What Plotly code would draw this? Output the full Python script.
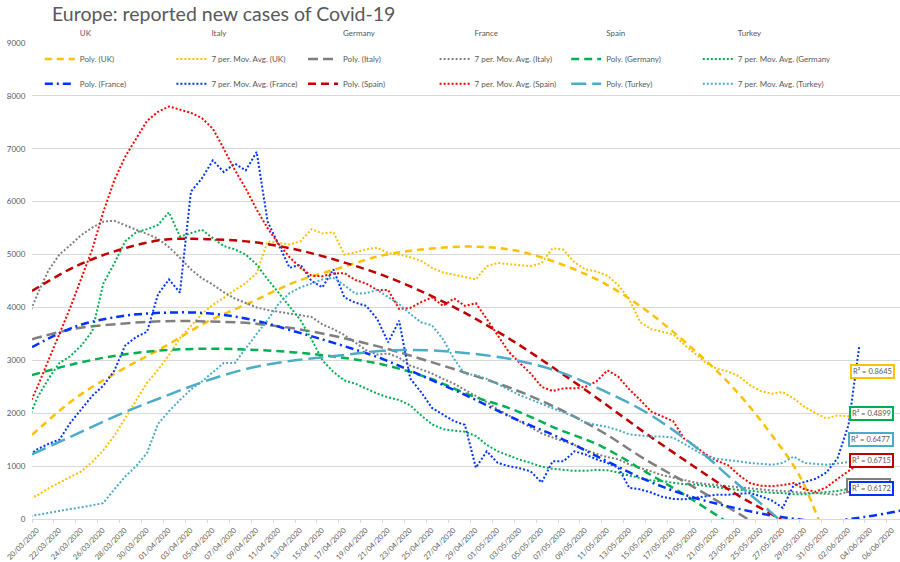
import pandas as pd
import plotly.graph_objects as go

# ---------------- data ----------------
countries = ["UK", "Italy", "Germany", "France", "Spain", "Turkey"]

# 7-day moving averages, one value per day from 19/03/2020 to 03/06/2020
ma_dates = pd.date_range("2020-03-19 12:00", periods=77, freq="D")

uk_ma = [360, 450, 580, 690, 790, 900, 1080, 1300, 1570, 1900,
         2250, 2580, 2820, 3100, 3420, 3650, 3880, 4050, 4180, 4330,
         4460, 4650, 5250, 5220, 5190, 5250, 5480, 5400, 5420, 5000,
         5040, 5100, 5130, 5030, 5000, 4950, 4880, 4750, 4660, 4620,
         4570, 4530, 4780, 4840, 4820, 4800, 4780, 4840, 5120, 5090,
         4850, 4720, 4680, 4600, 4420, 4150, 3720, 3590, 3540, 3490,
         3300, 3130, 2950, 2840, 2790, 2700, 2530, 2420, 2370, 2400,
         2280, 2120, 2000, 1900, 1960, 1940, 1930]
italy_ma = [3750, 4250, 4700, 5000, 5180, 5370, 5510, 5620, 5640, 5550,
            5470, 5390, 5300, 5140, 4940, 4720, 4550, 4430, 4290, 4170,
            4080, 4000, 3950, 3920, 3890, 3860, 3820, 3680, 3590, 3480,
            3340, 3190, 3110, 3130, 3050, 2900, 2830, 2750, 2650, 2560,
            2440, 2320, 2210, 2070, 1960, 1850, 1730, 1620, 1540, 1470,
            1400, 1310, 1230, 1170, 1130, 1030, 970, 900, 830, 780,
            740, 690, 660, 640, 610, 590, 570, 555, 540, 530,
            510, 495, 490, 470, 460, 520, 560]
germany_ma = [1800, 2300, 2650, 2950, 3080, 3280, 3550, 4450, 4830, 5250,
              5420, 5480, 5560, 5800, 5340, 5410, 5470, 5310, 5160, 5100,
              5000, 4810, 4530, 4280, 4020, 3760, 3400, 3000, 2780, 2620,
              2560, 2460, 2370, 2300, 2250, 2150, 1960, 1790, 1700, 1670,
              1650, 1570, 1400, 1280, 1200, 1120, 1060, 990, 950, 930,
              910, 910, 930, 920, 880, 820, 775, 730, 715, 690,
              660, 650, 630, 600, 570, 550, 530, 505, 495, 490,
              470, 470, 490, 510, 530, 570, 600]
france_ma = [1180, 1320, 1420, 1500, 1820, 2080, 2330, 2520, 2800, 3280,
             3440, 3540, 4250, 4530, 4280, 6190, 6440, 6780, 6560, 6720,
             6590, 6940, 5620, 5190, 4750, 4810, 4500, 4380, 4720, 4190,
             4090, 4030, 3780, 3340, 3750, 2660, 2400, 2100, 1970, 1850,
             1780, 970, 1280, 1060, 1000, 960, 900, 690, 1090, 1090,
             1280, 1220, 1130, 1060, 970, 590, 560, 500, 420, 380,
             370, 400, 440, 460, 460, 480, 490, 430, 350, 212,
             640, 700, 760, 880, 1150, 1775, 3290]
spain_ma = [2050, 2500, 3000, 3500, 4000, 4550, 5100, 5800, 6400, 6850,
            7200, 7530, 7700, 7800, 7740, 7680, 7580, 7380, 7000, 6600,
            6250, 5850, 5500, 5200, 4950, 4750, 4600, 4590, 4640, 4650,
            4520, 4450, 4330, 4330, 3970, 3990, 4100, 4190, 4030, 4170,
            4030, 4080, 3780, 3470, 3160, 2950, 2750, 2500, 2420, 2470,
            2470, 2500, 2600, 2810, 2690, 2450, 2250, 2030, 1940, 1850,
            1520, 1380, 1220, 1100, 1020, 830, 680, 630, 620, 640,
            680, 560, 515, 600, 760, 900, 1050]
turkey_ma = [40, 80, 120, 160, 190, 220, 260, 300, 560, 800,
             1000, 1250, 1800, 2040, 2250, 2450, 2600, 2780, 2950, 2950,
             3230, 3500, 3760, 4070, 4270, 4380, 4450, 4530, 4560, 4420,
             4260, 4270, 4330, 4200, 4060, 3880, 3720, 3660, 3400, 3030,
             2740, 2720, 2650, 2550, 2440, 2340, 2260, 2180, 2100, 2010,
             1930, 1820, 1780, 1740, 1680, 1600, 1580, 1560, 1560, 1540,
             1420, 1300, 1180, 1140, 1120, 1090, 1060, 1040, 1025, 1060,
             1180, 1060, 1040, 1025, 1050, 1080, 1100]

# polynomial trend lines, read at day offsets from 20/03/2020
uk_poly_days = [0, 4, 8, 12, 16, 20, 24, 28, 32, 36, 40, 44, 48, 52, 56, 60, 64, 68, 70, 72, 74]
uk_poly = [1590, 2290, 2800, 3250, 3730, 4100, 4480, 4740, 4985, 5105, 5150, 5080, 4840, 4480, 3950, 3270, 2480, 1450, 830, -130, -1300]
italy_poly_days = [0, 4, 8, 12, 16, 20, 24, 28, 32, 36, 40, 44, 48, 52, 56, 60, 64, 68]
italy_poly = [3400, 3600, 3690, 3740, 3735, 3700, 3600, 3440, 3240, 2995, 2735, 2450, 2090, 1650, 1120, 650, 160, -330]
germany_poly_days = [0, 4, 8, 12, 16, 20, 24, 28, 32, 36, 40, 44, 48, 52, 56, 60, 64, 68]
germany_poly = [2720, 2940, 3100, 3190, 3220, 3200, 3150, 3060, 2920, 2680, 2340, 2060, 1700, 1370, 890, 400, -140, -700]
france_poly_days = [0, 4, 8, 12, 16, 20, 24, 28, 32, 36, 40, 44, 48, 52, 56, 60, 64, 68, 72, 76, 80]
france_poly = [3250, 3640, 3830, 3900, 3890, 3770, 3545, 3300, 3025, 2670, 2300, 1900, 1550, 1140, 740, 430, 215, 50, -40, 40, 190]
spain_poly_days = [0, 4, 8, 12, 16, 20, 24, 28, 32, 36, 40, 44, 48, 52, 56, 60, 64, 68, 72]
spain_poly = [4310, 4780, 5090, 5280, 5290, 5240, 5100, 4880, 4610, 4260, 3840, 3350, 2800, 2220, 1620, 1050, 500, 30, -450]
turkey_poly_days = [0, 4, 8, 12, 16, 20, 24, 28, 32, 36, 40, 44, 48, 52, 56, 60, 64, 68, 72]
turkey_poly = [1220, 1600, 1980, 2310, 2620, 2860, 3000, 3090, 3180, 3190, 3130, 3010, 2790, 2440, 2020, 1450, 730, 20, -800]

r2_text = {"UK": "R² = 0.8645", "Germany": "R² = 0.4899", "Turkey": "R² = 0.6477",
           "Spain": "R² = 0.6715", "Italy": "R² = 0.6759", "France": "R² = 0.6172"}

# ---------------- styles ----------------
start = pd.Timestamp("2020-03-20")


def to_dates(days):
    return [start + pd.Timedelta(days=d) for d in days]


ma = {"UK": uk_ma, "Italy": italy_ma, "Germany": germany_ma,
      "France": france_ma, "Spain": spain_ma, "Turkey": turkey_ma}
poly = {"UK": (uk_poly_days, uk_poly), "Italy": (italy_poly_days, italy_poly),
        "Germany": (germany_poly_days, germany_poly), "France": (france_poly_days, france_poly),
        "Spain": (spain_poly_days, spain_poly), "Turkey": (turkey_poly_days, turkey_poly)}

poly_color = {"UK": "#FFC000", "Italy": "#7F7F7F", "Germany": "#00B050",
              "France": "#0033FF", "Spain": "#C00000", "Turkey": "#4BACC6"}
ma_color = {"UK": "#FFC000", "Italy": "#7F7F7F", "Germany": "#00B050",
            "France": "#0033FF", "Spain": "#FF0000", "Turkey": "#4BACC6"}
poly_dash = {"UK": "7px,5px", "Italy": "10px,5px", "Germany": "8px,5px",
             "France": "8px,4px,2px,4px", "Spain": "8px,5px", "Turkey": "15px,6px"}

fig = go.Figure()

# raw series (lines hidden) -> header row of legend
for c in countries:
    fig.add_trace(go.Scatter(x=ma_dates, y=ma[c], mode="lines", name=c,
                             line=dict(width=0, color="rgba(0,0,0,0)"),
                             legend="legend", hoverinfo="skip"))

for i, c in enumerate(countries):
    lg = "legend2" if i < 3 else "legend3"
    d, v = poly[c]
    fig.add_trace(go.Scatter(x=to_dates(d), y=v, mode="lines", name=f"Poly. ({c})",
                             line=dict(color=poly_color[c], width=2.5, dash=poly_dash[c], shape="spline"),
                             legend=lg))
    fig.add_trace(go.Scatter(x=ma_dates, y=ma[c], mode="lines", name=f"7 per. Mov. Avg. ({c})",
                             line=dict(color=ma_color[c], width=2, dash="2px,2px"),
                             legend=lg))

# R² labels
plot_l, plot_r, plot_t, plot_b = 32, 900, 43, 522
r2_pos = [("UK", 872.5, 373.5), ("Germany", 871, 416.3), ("Turkey", 870.5, 442.3),
          ("Spain", 871.5, 463.5), ("Italy", 868, 488.7), ("France", 871.5, 491.3)]
for c, px, py in r2_pos:
    fig.add_annotation(text=r2_text[c], xref="paper", yref="paper",
                       x=(px - plot_l) / (plot_r - plot_l), y=(plot_b - py) / (plot_b - plot_t),
                       xanchor="center", yanchor="middle", showarrow=False,
                       font=dict(size=7.5, color="#595959"), bgcolor="white",
                       bordercolor=poly_color[c], borderwidth=2, borderpad=1)

legend_common = dict(orientation="h", xanchor="left", yanchor="middle", x=0.009,
                     entrywidth=86.6, entrywidthmode="pixels", bgcolor="rgba(0,0,0,0)",
                     font=dict(size=8, color="#595959"), itemwidth=30, borderwidth=0)


def row_y(py):
    return (plot_b - py) / (plot_b - plot_t)


fig.update_layout(
    width=900, height=562,
    margin=dict(l=plot_l, r=900 - plot_r, t=plot_t, b=562 - plot_b),
    paper_bgcolor="white", plot_bgcolor="white",
    font=dict(family="Lato, 'Open Sans', sans-serif", color="#595959", size=8),
    title=dict(text="Europe: reported new cases of Covid-19", x=52 / 900, xanchor="left",
               xref="container", y=1 - 14 / 562, yref="container", yanchor="middle",
               font=dict(size=19.5, color="#595959")),
    xaxis=dict(type="date", range=[start, start + pd.Timedelta(days=79.2)],
               tick0=start, dtick=2 * 86400000, tickformat="%d/%m/%Y", tickangle=-45,
               ticks="outside", ticklen=3, tickcolor="#D9D9D9", showline=True,
               linecolor="#D9D9D9", linewidth=1, showgrid=False, zeroline=False,
               ticklabelshift=5,
               tickfont=dict(size=7.5, color="#595959")),
    yaxis=dict(range=[0, 9000], dtick=1000, gridcolor="#D9D9D9", showline=False,
               zeroline=False, ticks="outside", ticklen=4, tickcolor="rgba(0,0,0,0)",
               tickfont=dict(size=8, color="#595959")),
    legend=dict(y=row_y(33), **legend_common),
    legend2=dict(y=row_y(59), **legend_common),
    legend3=dict(y=row_y(84), **legend_common),
    showlegend=True, hovermode=False,
)

fig.write_html("out.html", config={"displayModeBar": False},
               post_script="document.body.style.margin='0';document.body.style.overflow='hidden';")
